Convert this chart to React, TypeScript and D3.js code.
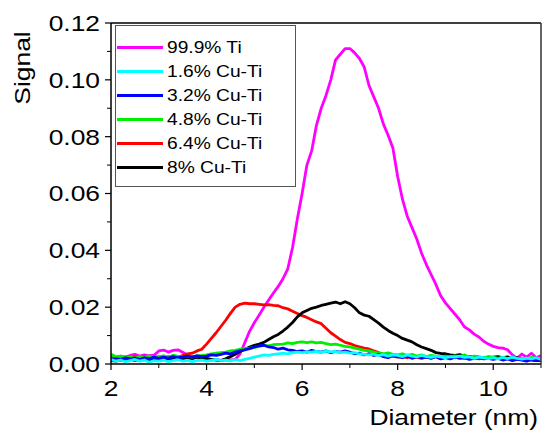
import React from 'react';
import * as d3 from 'd3';

// diameters sampled every 0.1 nm from 2 to 11
const diameters = d3.range(0, 91).map((i) => +(2 + i * 0.1).toFixed(1));

// signal values, in units of 1e-3
const ti999 = [
  2.6, 2.2, 2.8, 2.4, 3.0, 3.4, 2.8, 3.2, 2.9, 3.1,
  4.6, 4.9, 4.2, 4.8, 5.0, 4.1, 3.2, 2.6, 2.2, 1.8,
  1.5, 1.4, 1.6, 1.3, 1.5, 1.4, 1.6, 3.5, 7.5, 11.5,
  14.5, 17.2, 20.0, 22.5, 25.0, 27.3, 30.0, 33.5, 41, 51,
  60, 70, 75, 84, 90, 94.5, 100, 107, 109, 111,
  111, 109.5, 107.5, 104.5, 98, 94, 90, 84.5, 80.5, 76,
  66, 58, 52, 48, 44, 39, 35, 31.5, 28, 24,
  21.5, 19.5, 17.5, 15.5, 13, 12, 10.5, 9.5, 8, 7,
  6.2, 5.8, 5.6, 5.0, 3.2, 2.0, 3.5, 2.4, 3.8, 2.2, 3.0,
];
const cu16 = [
  1.6, 1.0, 1.4, 0.8, 1.2, 1.6, 1.0, 1.4, 0.6, 1.2,
  1.0, 1.4, 0.8, 1.2, 1.5, 1.0, 1.3, 0.8, 1.2, 1.4,
  1.0, 1.3, 1.6, 1.2, 1.4, 1.1, 1.5, 1.2, 1.6, 2.0,
  2.4, 2.8, 3.2, 3.0, 3.4, 3.6, 3.8, 3.6, 4.0, 4.2,
  4.0, 4.3, 4.2, 4.4, 4.1, 4.5, 4.3, 4.4, 4.0, 4.2,
  3.8, 4.0, 3.6, 3.4, 3.2, 3.5, 3.0, 3.3, 2.8, 3.2,
  3.0, 2.6, 3.2, 2.8, 2.5, 3.0, 2.6, 2.3, 2.8, 2.5,
  2.2, 2.6, 2.4, 2.8, 2.3, 2.5, 2.0, 2.4, 2.2, 1.9,
  2.2, 1.8, 2.3, 1.9, 2.4, 2.0, 1.7, 2.1, 1.8, 2.2, 1.6,
];
const cu32 = [
  1.4, 1.8, 1.6, 2.2, 1.8, 2.0, 1.6, 2.2, 1.8, 2.4,
  2.0, 2.4, 2.1, 2.6, 2.2, 2.5, 2.8, 2.4, 2.9, 2.6,
  2.8, 3.2, 3.0, 3.4, 3.8, 3.6, 4.2, 4.6, 5.0, 5.4,
  6.0, 6.4, 6.6, 6.0, 5.8, 5.2, 5.6, 5.0, 4.8, 4.4,
  4.6, 4.2, 4.8, 4.4, 4.2, 4.6, 4.0, 4.4, 4.2, 4.6,
  4.2, 3.6, 3.8, 3.2, 3.6, 3.0, 3.4, 2.6, 2.2, 3.0,
  2.6, 2.2, 2.8, 2.0, 2.6, 2.2, 2.4, 2.0, 2.6, 1.8,
  2.2, 1.8, 2.4, 2.0, 2.2, 1.6, 2.0, 2.2, 1.8, 2.0,
  1.6, 2.0, 1.4, 1.8, 1.2, 1.6, 1.4, 1.0, 1.6, 1.2, 1.4,
];
const cu48 = [
  3.4, 2.6, 2.8, 2.2, 2.5, 2.0, 2.6, 2.3, 2.8, 2.4,
  2.6, 2.9, 2.4, 3.1, 2.7, 2.5, 2.8, 2.4, 2.9, 3.0,
  3.2, 3.6, 3.8, 4.0, 4.2, 4.6, 4.8, 5.2, 5.4, 5.6,
  5.8, 6.2, 6.6, 6.4, 6.8, 6.9, 7.0, 7.4, 7.2, 7.6,
  7.8, 7.5, 7.8, 7.4, 7.6, 7.2, 6.8, 7.0, 6.6, 6.2,
  6.0, 5.6, 5.2, 4.8, 4.6, 4.2, 3.8, 3.6, 3.9, 3.4,
  3.2, 3.6, 3.0, 3.4, 2.8, 3.2, 2.6, 3.0, 2.8, 2.5,
  2.8, 2.4, 2.9, 2.6, 3.2, 2.4, 2.8, 2.5, 2.2, 2.6,
  2.4, 2.0, 2.3, 1.8, 2.2, 1.6, 2.0, 1.8, 2.3, 1.9, 2.1,
];
const cu64 = [
  2.2, 2.0, 1.8, 2.4, 2.1, 2.5, 2.2, 2.6, 2.3, 2.4,
  2.5, 2.2, 2.6, 2.3, 2.4, 3.0, 3.6, 3.8, 4.6, 5.2,
  7.0, 9.0, 11.0, 13.2, 15.4, 17.8, 20.0, 21.0, 21.4, 21.2,
  21.2, 21.0, 20.8, 20.9, 20.6, 20.5, 19.8, 19.4, 18.6, 17.8,
  17.0, 16.4, 15.6, 14.8, 14.2, 12.6, 11.0, 9.8, 8.6, 7.6,
  7.2, 6.5, 6.0, 5.6, 5.3, 4.6, 4.0, 3.5, 3.0, 2.7,
  2.4, 2.6, 2.2, 2.8, 2.3, 2.0, 2.5, 2.2, 2.7, 2.1,
  2.4, 2.8, 2.2, 2.5, 2.0, 2.6, 2.3, 1.8, 2.2, 2.4,
  1.9, 2.3, 1.6, 2.0, 1.5, 2.2, 1.8, 1.4, 2.0, 1.7, 1.8,
];
const cu80 = [
  1.2, 1.0, 1.4, 1.2, 1.6, 1.3, 1.5, 1.8, 1.4, 1.6,
  1.7, 1.5, 1.9, 1.6, 2.0, 1.8, 2.2, 1.9, 2.4, 2.1,
  2.0, 1.6, 1.4, 1.2, 1.8, 2.6, 3.4, 4.4, 5.2, 6.0,
  6.6, 7.0, 7.6, 8.6, 9.6, 10.4, 11.6, 13.0, 14.6, 16.6,
  18.0, 18.8, 19.6, 20.0, 20.6, 21.0, 21.4, 21.8, 21.2, 21.9,
  21.2, 19.8, 18.0, 17.2, 16.8, 15.6, 14.4, 13.0, 11.8, 10.8,
  10.0, 9.0, 8.4, 7.8, 6.8, 6.0, 5.4, 4.8, 4.0, 3.7,
  3.6, 3.2, 3.0, 3.3, 2.8, 2.6, 2.7, 2.4, 2.2, 2.3,
  2.4, 2.6, 2.2, 2.5, 2.0, 2.2, 1.8, 1.6, 1.4, 1.2, 1.3,
];

const seriesNames = ['99.9% Ti', '1.6% Cu-Ti', '3.2% Cu-Ti', '4.8% Cu-Ti', '6.4% Cu-Ti', '8% Cu-Ti'];
const seriesValues = [ti999, cu16, cu32, cu48, cu64, cu80];
const seriesColors = ['#ff00ff', '#00ffff', '#0000ff', '#00ee00', '#ff0000', '#000000'];
// draw order roughly as layered in the figure
const drawOrder = [0, 4, 5, 3, 2, 1];

const xTicks = [2, 4, 6, 8, 10];
const yTicks = [0, 0.02, 0.04, 0.06, 0.08, 0.1, 0.12];

const W = 543;
const H = 434;
const margin = { left: 111, right: 2, top: 23, bottom: 70 };
// the figure's text is stretched horizontally
const SX = 1.2;

export default function App() {
  const x = d3.scaleLinear().domain([2, 11]).range([margin.left, W - margin.right]);
  const y = d3.scaleLinear().domain([0, 0.12]).range([H - margin.bottom, margin.top]);
  const line = d3
    .line<number>()
    .x((_, i) => x(diameters[i]))
    .y((d) => y(d / 1000));

  const font = 'Arial, "Liberation Sans", sans-serif';
  const x0 = margin.left;
  const x1 = W - margin.right;
  const y0 = H - margin.bottom;
  const y1 = margin.top;

  const xMinor = [3, 5, 7, 9, 11];
  const yMinor = d3.range(0, 6).map((i) => 0.01 + i * 0.02);

  return (
    <svg
      width={W}
      height={H}
      style={{ position: 'absolute', left: 0, top: 0, background: '#fff' }}
      fontFamily={font}
    >
      <defs>
        <clipPath id="plotClip">
          <rect x={x0} y={y1} width={x1 - x0} height={y0 - y1} />
        </clipPath>
      </defs>

      <g clipPath="url(#plotClip)">
        {drawOrder.map((k) => (
          <path
            key={k}
            d={line(seriesValues[k]) || ''}
            fill="none"
            stroke={seriesColors[k]}
            strokeWidth={2.8}
            strokeLinejoin="round"
          />
        ))}
      </g>

      {/* frame */}
      <line x1={x0} x2={x1} y1={y1} y2={y1} stroke="#000" strokeWidth={1.5} />
      <line x1={x0} x2={x1} y1={y0} y2={y0} stroke="#000" strokeWidth={1.5} />
      <line x1={x0} x2={x0} y1={y1} y2={y0} stroke="#000" strokeWidth={1.5} />
      <line x1={x1} x2={x1} y1={y1} y2={y0} stroke="#333" strokeWidth={1.5} />

      {/* y ticks */}
      {yTicks.map((t) => (
        <g key={t}>
          <line x1={x0 - 6} x2={x0} y1={y(t)} y2={y(t)} stroke="#000" strokeWidth={1.2} />
          <text
            transform={`translate(${x0 - 11}, ${y(t)}) scale(${SX}, 1)`}
            dy="0.36em"
            textAnchor="end"
            fontSize={22}
          >
            {t.toFixed(2)}
          </text>
        </g>
      ))}
      {yMinor.map((t) => (
        <line key={t} x1={x0 - 4} x2={x0} y1={y(t)} y2={y(t)} stroke="#000" strokeWidth={1} />
      ))}

      {/* x ticks */}
      {xTicks.map((t) => (
        <g key={t}>
          <line x1={x(t)} x2={x(t)} y1={y0} y2={y0 + 6} stroke="#000" strokeWidth={1.2} />
          <text
            transform={`translate(${x(t)}, ${y0 + 32}) scale(${SX}, 1)`}
            textAnchor="middle"
            fontSize={22}
          >
            {t}
          </text>
        </g>
      ))}
      {xMinor.map((t) => (
        <line key={t} x1={x(t)} x2={x(t)} y1={y0} y2={y0 + 4} stroke="#000" strokeWidth={1} />
      ))}

      <text transform={`translate(538, 425) scale(${SX}, 1)`} textAnchor="end" fontSize={22}>
        Diameter (nm)
      </text>
      <text
        transform={`translate(30, 68) rotate(-90) scale(${SX}, 1)`}
        textAnchor="middle"
        fontSize={22}
      >
        Signal
      </text>

      {/* legend */}
      <rect x={115.5} y={25.5} width={180} height={161} fill="#fff" stroke="#555" strokeWidth={1} />
      {seriesNames.map((name, i) => (
        <g key={name} transform={`translate(117, ${47.5 + i * 24})`}>
          <line x1={0} x2={46} y1={0} y2={0} stroke={seriesColors[i]} strokeWidth={3} />
          <text transform={`translate(50, 0) scale(${SX}, 1)`} dy="0.36em" fontSize={16}>
            {name}
          </text>
        </g>
      ))}
    </svg>
  );
}
